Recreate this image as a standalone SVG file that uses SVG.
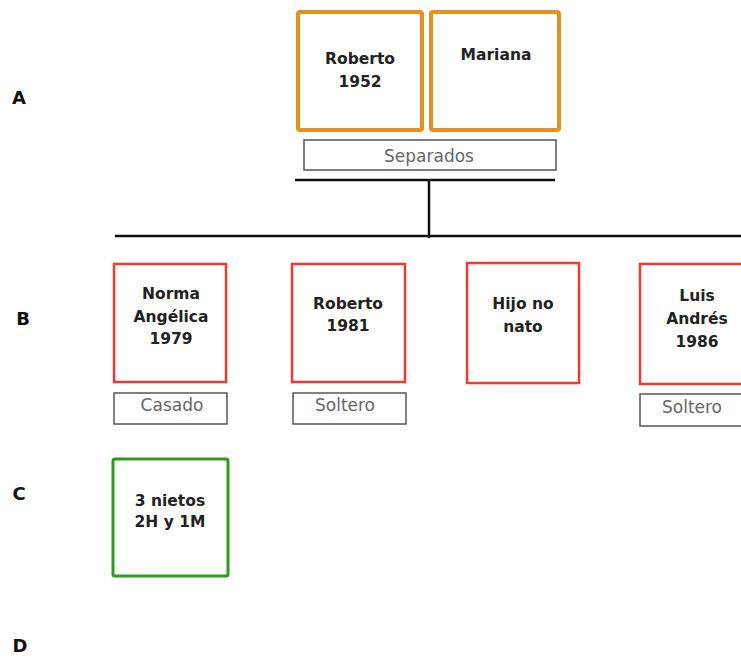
<svg xmlns="http://www.w3.org/2000/svg" width="741" height="659" viewBox="0 0 741 659">
<style>
.bg{fill:#fff}
.par{fill:#fff;stroke:#E8901E;stroke-width:4}
.kid{fill:#fff;stroke:#F03A30;stroke-width:2.5}
.gc{fill:#fff;stroke:#2F9A1C;stroke-width:3}
.st{fill:#fff;stroke:#555;stroke-width:1.5}
.n{font-family:"DejaVu Sans",sans-serif;font-weight:bold;font-size:15.5px;fill:#222;text-anchor:middle}
.s{font-family:"DejaVu Sans",sans-serif;font-size:17px;fill:#666;text-anchor:middle}
.lab{font-family:"DejaVu Sans",sans-serif;font-weight:bold;font-size:18px;fill:#111;text-anchor:middle}
.ln{stroke:#111;stroke-width:2.5;fill:none}
</style>
<rect class="bg" x="0" y="0" width="741" height="659"/>
<g id="row-labels">
<text class="lab" x="19" y="104">A</text>
<text class="lab" x="23" y="325">B</text>
<text class="lab" x="19" y="500">C</text>
<text class="lab" x="20" y="652">D</text>
</g>
<g id="connectors">
<line class="ln" x1="295" y1="180" x2="555" y2="180"/>
<line class="ln" x1="429" y1="180" x2="429" y2="238"/>
<line class="ln" x1="115" y1="236" x2="741" y2="236"/>
</g>
<g id="roberto1952">
<rect class="par" x="298" y="12" width="124" height="118" rx="2"/>
<text class="n" x="360" y="64">Roberto</text>
<text class="n" x="360" y="87">1952</text>
</g>
<g id="mariana">
<rect class="par" x="431" y="12" width="128" height="118" rx="2"/>
<text class="n" x="496" y="60">Mariana</text>
</g>
<g id="separados">
<rect class="st" x="304" y="140" width="252" height="30"/>
<text class="s" x="429" y="162">Separados</text>
</g>
<g id="norma">
<rect class="kid" x="114" y="264" width="112" height="118"/>
<text class="n" x="171" y="299">Norma</text>
<text class="n" x="171" y="322">Angélica</text>
<text class="n" x="171" y="344">1979</text>
</g>
<g id="casado">
<rect class="st" x="114" y="393" width="113" height="31"/>
<text class="s" x="172" y="411">Casado</text>
</g>
<g id="roberto1981">
<rect class="kid" x="292" y="264" width="113" height="118"/>
<text class="n" x="348" y="309">Roberto</text>
<text class="n" x="348" y="331">1981</text>
</g>
<g id="soltero1">
<rect class="st" x="293" y="393" width="113" height="31"/>
<text class="s" x="345" y="411">Soltero</text>
</g>
<g id="hijonato">
<rect class="kid" x="467" y="263" width="112" height="120"/>
<text class="n" x="523" y="309">Hijo no</text>
<text class="n" x="523" y="332">nato</text>
</g>
<g id="luis">
<rect class="kid" x="640" y="264" width="110" height="120"/>
<text class="n" x="697" y="301">Luis</text>
<text class="n" x="697" y="324">Andrés</text>
<text class="n" x="697" y="347">1986</text>
</g>
<g id="soltero2">
<rect class="st" x="640" y="394" width="110" height="32"/>
<text class="s" x="692" y="413">Soltero</text>
</g>
<g id="nietos">
<rect class="gc" x="113" y="459" width="115" height="117" rx="2"/>
<text class="n" x="170" y="506">3 nietos</text>
<text class="n" x="170" y="527">2H y 1M</text>
</g>
</svg>
